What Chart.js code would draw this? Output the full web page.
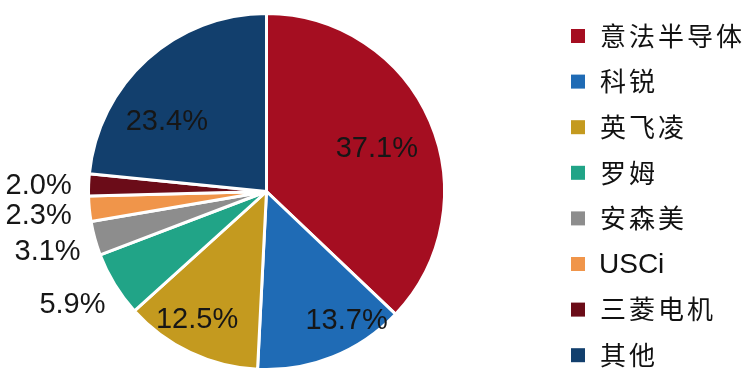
<!DOCTYPE html>
<html>
<head>
<meta charset="utf-8">
<script src="https://cdn.jsdelivr.net/npm/chart.js@4"></script>
<style>
html,body{margin:0;padding:0;background:#fff;}
#wrap{width:755px;height:377px;}
</style>
</head>
<body>
<div id="wrap"><canvas id="pie" width="755" height="377"></canvas></div>
<script>
const labels=['意法半导体','科锐','英飞凌','罗姆','安森美','USCi','三菱电机','其他'];
const shares=[37.1,13.7,12.5,5.9,3.1,2.3,2.0,23.4];
const colors=['#A50E21','#1F6BB5','#C49A1F','#21A487','#8D8D8D','#F0954A','#6B0C18','#123F6D'];

// label anchor per slice, in units of radius from the pie centre
const labelPos=[[0.62,-0.24],[0.45,0.73],[-0.39,0.72],[-1.09,0.64],[-1.23,0.34],[-1.28,0.14],[-1.28,-0.03],[-0.56,-0.39]];

const FONT_LATIN='"Liberation Sans", Arial, sans-serif';
const FONT_CJK='"Noto Sans CJK SC",sans-serif';

const pctLabels={
  id:'pctLabels',
  afterDatasetsDraw(chart){
    const {ctx}=chart;
    const arc=chart.getDatasetMeta(0).data[0];
    const r=arc.outerRadius,cx=arc.x,cy=arc.y;
    ctx.save();
    ctx.font='29px '+FONT_LATIN;
    ctx.fillStyle='#161616';
    ctx.textAlign='center';ctx.textBaseline='middle';
    shares.forEach((v,i)=>{
      const [fx,fy]=labelPos[i];
      ctx.fillText(v.toFixed(1)+'%',cx+fx*r,cy+fy*r);
    });
    ctx.restore();
  }
};

const sideLegend={
  id:'sideLegend',
  afterDraw(chart){
    const {ctx}=chart;
    ctx.save();
    ctx.textBaseline='middle';ctx.textAlign='left';
    labels.forEach((l,i)=>{
      const y=36+i*45.6;
      ctx.fillStyle=colors[i];
      ctx.fillRect(571,y-7,14,14);
      ctx.fillStyle='#111';
      if(/^[\x00-\x7f]+$/.test(l)){
        ctx.letterSpacing='0px';
        ctx.font='28px '+FONT_LATIN;
        ctx.fillText(l,599,y+1);
      }else{
        ctx.letterSpacing='3px';
        ctx.font='26px '+FONT_CJK;
        ctx.fillText(l,600,y);
      }
    });
    ctx.restore();
  }
};

new Chart(document.getElementById('pie'),{
  type:'pie',
  data:{labels,datasets:[{data:shares,backgroundColor:colors,borderColor:'#fff',borderWidth:3}]},
  options:{
    responsive:false,animation:false,
    layout:{padding:{left:87,right:309,top:12,bottom:6}},
    plugins:{legend:{display:false},tooltip:{enabled:false}}
  },
  plugins:[pctLabels,sideLegend]
});
</script>
</body>
</html>
